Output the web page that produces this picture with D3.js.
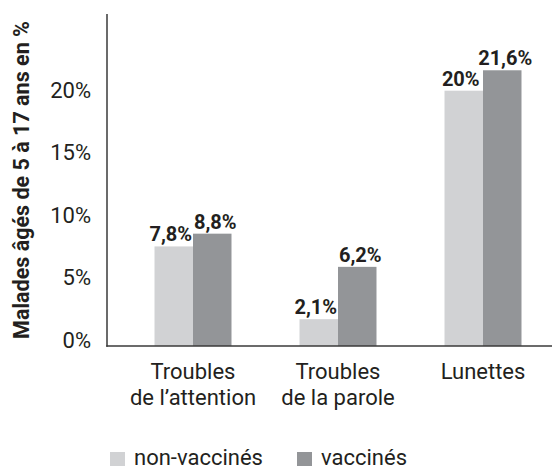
<!DOCTYPE html>
<html>
<head>
<meta charset="utf-8">
<script src="https://cdn.jsdelivr.net/npm/d3@7"></script>
<style>
  body { margin: 0; background: #fff; }
  text { font-family: Roboto, "DejaVu Sans", sans-serif; fill: #231f20; }
</style>
</head>
<body>
<div id="chart"></div>
<script>
// data
var categories = ["attention", "parole", "lunettes"];
var categoryLabels = [["Troubles", "de l’attention"], ["Troubles", "de la parole"], ["Lunettes"]];
var series = ["non-vaccinés", "vaccinés"];
var nonVaccines = [7.8, 2.1, 20];
var vaccines = [8.8, 6.2, 21.6];
var valueLabels = [["7,8%", "8,8%"], ["2,1%", "6,2%"], ["20%", "21,6%"]];
var yTicks = [0, 5, 10, 15, 20];
var yTitle = "Malades âgés de 5 à 17 ans en %";
var colors = ["#d1d2d4", "#939598"];

var width = 552, height = 469;
var svg = d3.select("#chart").append("svg")
    .attr("width", width)
    .attr("height", height);

// scales
var x = d3.scaleBand()
    .domain(categories)
    .range([120.5, 555.5])
    .paddingInner(0.469)
    .paddingOuter(0.2345);
var xSub = d3.scaleBand()
    .domain(series)
    .range([0, x.bandwidth()]);
var y = d3.scaleLinear()
    .domain([0, 20])
    .range([346, 90.7]);
// tick labels sit a bit off the bar scale in the original
var yLab = d3.scaleLinear()
    .domain([0, 20])
    .range([340, 90]);
var color = d3.scaleOrdinal().domain(series).range(colors);

var rows = categories.map(function(c, i) {
  return {cat: c, values: [
    {s: series[0], v: nonVaccines[i], label: valueLabels[i][0]},
    {s: series[1], v: vaccines[i], label: valueLabels[i][1]}
  ]};
});

// bars
var groups = svg.selectAll("g.group")
    .data(rows)
  .enter().append("g")
    .attr("class", "group")
    .attr("transform", function(d) { return "translate(" + x(d.cat) + ",0)"; });

groups.selectAll("rect")
    .data(function(d) { return d.values; })
  .enter().append("rect")
    .attr("x", function(d) { return xSub(d.s); })
    .attr("y", function(d) { return y(d.v); })
    .attr("width", xSub.bandwidth())
    .attr("height", function(d) { return y(0) - y(d.v); })
    .style("fill", function(d) { return color(d.s); });

// value labels, nudged a little outward like the original
groups.selectAll("text.val")
    .data(function(d) { return d.values; })
  .enter().append("text")
    .attr("class", "val")
    .attr("x", function(d) { return xSub(d.s) + xSub.bandwidth() / 2; })
    .attr("dx", function(d, i) { return i == 0 ? -3 : 3; })
    .attr("y", function(d) { return y(d.v) - 5; })
    .style("text-anchor", "middle")
    .style("font-weight", "bold")
    .style("font-size", "20px")
    .text(function(d) { return d.label; });

// axes lines
svg.append("line")
    .attr("x1", 107).attr("x2", 107)
    .attr("y1", 14).attr("y2", y(0) + 0.75)
    .style("stroke", "#3a3a3a").style("stroke-width", 1.5);
svg.append("line")
    .attr("x1", 106.25).attr("x2", width)
    .attr("y1", y(0)).attr("y2", y(0))
    .style("stroke", "#3a3a3a").style("stroke-width", 1.5);

// y tick labels
svg.selectAll("text.ytick")
    .data(yTicks)
  .enter().append("text")
    .attr("class", "ytick")
    .attr("x", 91)
    .attr("y", function(d) { return yLab(d); })
    .attr("dy", "0.36em")
    .style("text-anchor", "end")
    .style("font-size", "22px")
    .text(function(d) { return d + "%"; });

// y title
svg.append("text")
    .attr("transform", "translate(29,180) rotate(-90)")
    .style("text-anchor", "middle")
    .style("font-weight", "bold")
    .style("font-size", "21.5px")
    .text(yTitle);

// category labels
var cats = svg.selectAll("text.cat")
    .data(categories)
  .enter().append("text")
    .attr("class", "cat")
    .attr("x", function(d) { return x(d) + x.bandwidth() / 2; })
    .attr("y", 379)
    .style("text-anchor", "middle")
    .style("font-size", "22px");
cats.selectAll("tspan")
    .data(function(d, i) { return categoryLabels[i]; })
  .enter().append("tspan")
    .attr("x", function() { return d3.select(this.parentNode).attr("x"); })
    .attr("dy", function(d, i) { return i == 0 ? 0 : 26; })
    .text(function(d) { return d; });

// legend
var legendX = [110, 297];
var legend = svg.selectAll("g.legend")
    .data(series)
  .enter().append("g")
    .attr("class", "legend")
    .attr("transform", function(d, i) { return "translate(" + legendX[i] + ",452)"; });
legend.append("rect")
    .attr("width", 15)
    .attr("height", 14)
    .style("fill", function(d) { return color(d); });
legend.append("text")
    .attr("x", 24)
    .attr("y", 13)
    .style("font-size", "22px")
    .text(function(d) { return d; });
</script>
</body>
</html>
